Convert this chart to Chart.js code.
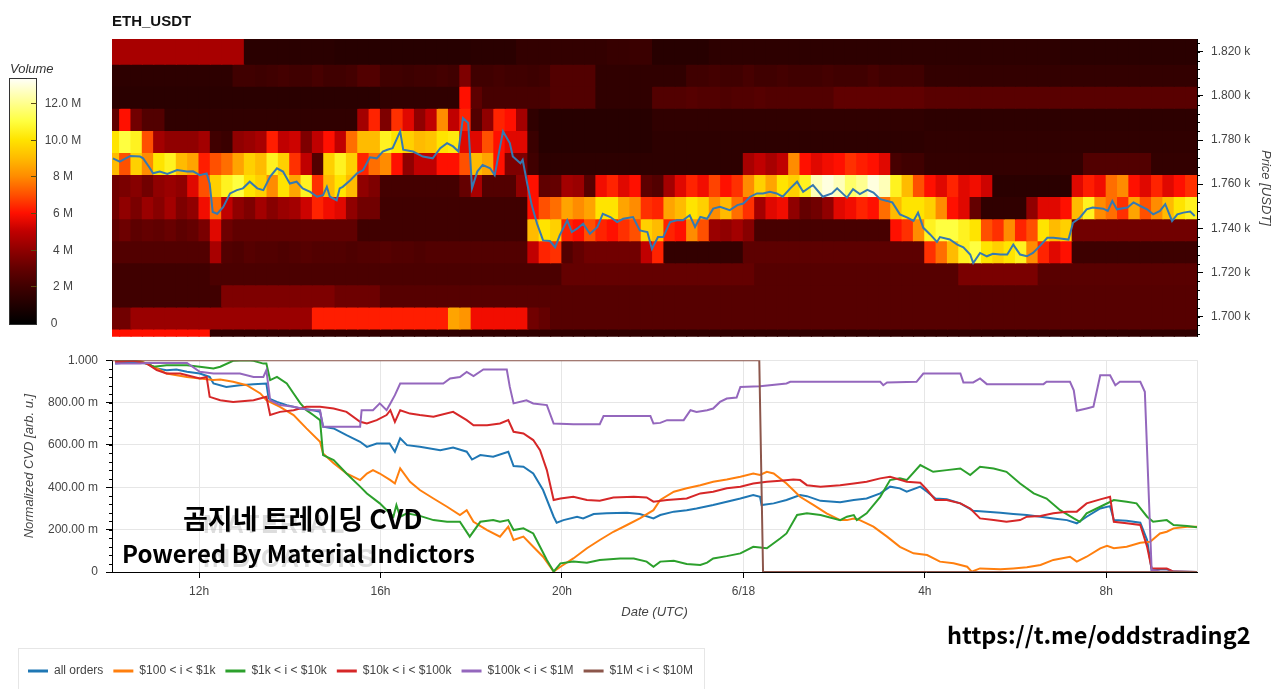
<!DOCTYPE html>
<html><head><meta charset="utf-8">
<script src="https://cdn.jsdelivr.net/npm/chart.js@4.4.1/dist/chart.umd.min.js"></script>
<style>
html,body{margin:0;padding:0;background:#fff;overflow:hidden;width:1280px;height:689px;}
canvas{position:absolute;left:0;}
#c1{top:0;}
#c2{top:345px;}
#legendBox{position:absolute;left:18px;top:648px;width:687px;height:70px;border:1px solid #e6e6e6;box-sizing:border-box;}
.txt{position:absolute;white-space:nowrap;font-family:'Noto Sans CJK KR','Noto Sans',sans-serif;font-weight:700;color:#000;line-height:1;}
.wm{position:absolute;white-space:nowrap;font-family:'Liberation Sans',Arial,sans-serif;font-weight:700;color:rgba(150,150,150,0.32);line-height:1;letter-spacing:2px;}
</style></head><body>
<div id="legendBox"></div>
<canvas id="c1" width="1280" height="352"></canvas>
<canvas id="c2" width="1280" height="360"></canvas>
<div class="wm" style="left:203px;top:512px;font-size:25px;">MATERIAL</div>
<div class="wm" style="left:203px;top:546px;font-size:25px;">INDICATORS</div>
<div class="txt" style="left:183px;top:503.5px;font-size:27px;">곰지네 트레이딩 CVD</div>
<div class="txt" style="left:122px;top:540.5px;font-size:24px;">Powered By Material Indictors</div>
<div class="txt" style="left:947px;top:622.5px;font-size:23.5px;">https://t.me/oddstrading2</div>
<script>
// ---------------- DATA ----------------
// heatmap column centres (minutes after 6/17 10:00, 15-min columns)
const heatTimes = [7.5,22.5,37.5,52.5,67.5,82.5,97.5,112.5,127.5,142.5,
157.5,172.5,187.5,202.5,217.5,232.5,247.5,262.5,277.5,292.5,
307.5,322.5,337.5,352.5,367.5,382.5,397.5,412.5,427.5,442.5,
457.5,472.5,487.5,502.5,517.5,532.5,547.5,562.5,577.5,592.5,
607.5,622.5,637.5,652.5,667.5,682.5,697.5,712.5,727.5,742.5,
757.5,772.5,787.5,802.5,817.5,832.5,847.5,862.5,877.5,892.5,
907.5,922.5,937.5,952.5,967.5,982.5,997.5,1012.5,1027.5,1042.5,
1057.5,1072.5,1087.5,1102.5,1117.5,1132.5,1147.5,1162.5,1177.5,1192.5,
1207.5,1222.5,1237.5,1252.5,1267.5,1282.5,1297.5,1312.5,1327.5,1342.5,
1357.5,1372.5,1387.5,1402.5,1417.5,1432.5];
// price bin edges (USDT), bottom -> top
const priceEdges = [1690.8,1694.4,1704.4,1714.4,1724.4,1734.4,1744.4,1754.4,1764.4,1774.4,1784.4,1794.4,1804.4,1814.4,1825.8];
// resting volume per bin (millions), top bin first
const volBin1820 = [4.5,4.5,4.5,4.5,4.5,4.5,4.5,4.5,4.5,4.5,4.5,4.5,1.3,1.3,1.3,1.3,1.3,1.3,1.3,1.3,
1.2,1.2,1.2,1.2,1.2,1.2,1.2,1.2,1.2,1.2,1.2,1.2,1.3,1.3,1.3,1.3,1.6,1.6,1.6,1.6,
1.6,1.6,1.6,1.6,1.7,1.7,1.8,1.8,1.2,1.2,1.2,1.2,1.2,1.4,1.4,1.4,1.4,1.4,1.4,1.4,
1.4,1.4,1.4,1.4,1.4,1.4,1.4,1.4,1.4,1.4,1.4,1.4,1.4,1.4,1.4,1.4,1.4,1.4,1.4,1.4,
1.4,1.4,1.4,1.4,1.3,1.3,1.3,1.3,1.3,1.3,1.3,1.3,1.3,1.3,1.3,1.3];
const volBin1809 = [1.4,1.4,1.4,1.4,1.4,1.4,1.4,1.4,1.4,1.4,1.4,2.0,2.0,1.9,2.0,2.1,2.0,2.0,2.2,2.0,
2.0,2.1,2.5,2.5,2.0,2.0,1.9,2.0,2.0,2.1,2.0,3.6,2.0,2.0,2.1,2.0,2.0,1.9,2.0,2.5,
2.5,2.5,2.5,1.5,1.5,1.5,1.5,1.5,1.5,1.5,1.5,2.0,2.0,2.1,2.0,2.0,2.2,2.0,2.0,2.1,
2.0,2.0,2.0,2.1,2.0,2.0,2.0,2.2,2.0,2.0,2.0,2.0,1.6,1.6,1.6,1.6,1.6,1.6,1.6,1.6,
1.6,1.6,1.6,1.6,1.6,1.6,1.6,1.6,1.6,1.6,1.6,1.6,1.6,1.6,1.6,1.6];
const volBin1799 = [1.3,1.3,1.3,1.3,1.3,1.3,1.3,1.3,1.3,1.3,1.3,1.3,1.3,1.3,1.3,1.3,1.3,1.3,1.3,1.3,
1.3,1.3,1.3,1.3,1.5,1.5,1.5,1.5,1.5,1.5,1.5,6.0,2.8,2.2,2.2,2.2,2.2,2.2,2.2,2.5,
2.5,2.5,2.5,1.5,1.5,1.5,1.5,1.5,2.5,2.5,2.5,2.6,2.5,2.5,2.4,2.5,2.5,2.6,2.5,2.5,
2.5,2.5,2.5,2.5,2.9,2.9,2.9,2.9,2.9,2.9,2.9,2.9,2.7,2.7,2.7,2.7,2.7,2.7,2.7,2.7,
2.7,2.7,2.7,2.7,2.7,2.7,2.7,2.7,2.7,2.7,2.7,2.7,2.7,2.7,2.7,2.7];
const volBin1789 = [2.9,6.0,3.3,2.5,2.5,1.5,1.5,1.5,1.5,1.5,1.5,1.5,1.5,1.5,1.5,1.5,1.5,1.5,1.5,1.5,
1.5,1.5,4.4,6.3,3.6,6.5,5.5,4.0,5.0,8.0,5.0,6.3,2.5,4.0,6.3,6.0,4.4,1.5,1.2,1.2,
1.2,1.2,1.2,1.2,1.2,1.2,1.2,1.2,1.5,1.5,1.5,1.5,1.5,1.5,1.5,1.5,1.5,1.5,1.5,1.5,
1.5,1.5,1.5,1.5,1.5,1.5,1.5,1.5,1.5,1.5,1.5,1.5,1.4,1.4,1.4,1.4,1.4,1.4,1.4,1.4,
1.4,1.4,1.4,1.4,1.4,1.4,1.4,1.4,1.4,1.4,1.4,1.4,1.4,1.4,1.4,1.4];
const volBin1779 = [10,11,10.5,7,4.4,4,4,4,4.4,2.0,1.8,4,4.2,4.5,6.2,5,5.2,3.6,5,6,
5,7.5,9,9,10.5,10,9.5,9,9.2,10,10.2,5.5,5.5,7,6,5.5,5.5,1.8,1.2,1.2,
1.2,1.2,1.2,1.2,1.2,1.2,1.2,1.2,1.4,1.4,1.4,1.4,1.4,1.4,1.4,1.4,1.4,1.4,1.4,1.4,
1.4,1.4,1.4,1.4,1.4,1.4,1.4,1.4,1.4,1.4,1.4,1.4,1.5,1.5,1.5,1.5,1.5,1.5,1.5,1.5,
1.5,1.5,1.5,1.5,1.5,1.5,1.5,1.5,1.5,1.5,1.5,1.5,1.5,1.5,1.5,1.5];
const volBin1769 = [9,7,9.5,8,10,10.5,9,8.5,6.2,7,7.5,8.5,9.5,9,10.5,9.5,6.5,5,2.5,9.5,
10.5,9.5,6.3,7.5,8,6,4,5,5,6,6,7,9,8.5,6,3.6,3.6,2.0,1.4,1.4,
1.4,1.4,1.4,1.4,1.4,1.4,1.4,1.4,1.4,1.4,1.4,1.4,1.4,1.4,1.4,1.4,4.5,5,4.5,5,
8,6,5.5,5.8,6,6.5,6.2,6,5.5,2.2,2,2,1.6,1.6,1.6,1.6,1.6,1.6,1.6,1.6,
1.6,1.6,1.6,1.6,1.6,1.6,2.5,2.5,2.5,2.5,2.5,2.5,1.6,1.6,1.6,1.6];
const volBin1759 = [3.3,3.5,3.8,3.3,4.0,4.2,4.0,5.5,7,9.5,10.5,11,10,9.5,8,10,8.5,10.5,6.5,9,
10,9,4,3.6,2.1,2.1,2.1,2.1,2.1,2.1,2.1,3,4.5,2.5,2.5,2.5,4,6,2.9,3.0,
4.4,4.2,2.6,5.8,6.3,5.5,6.0,2.8,2.5,4.4,5.5,6.3,5.8,6.8,6.0,6.5,8.0,9.5,8.5,10,
9.5,10.5,12.5,13,12.5,11.5,12,13,12.5,10.5,9,7,6,5.5,6.3,5.5,5.8,5.2,1.3,1.3,
1.3,1.3,1.3,1.3,1.3,5.5,6.2,5.8,7.5,8,6,5.5,6.3,5.5,6,6.5];
const volBin1749 = [3.3,4,3.5,4.2,3.8,4.4,3.6,4,5.8,7.5,5,4,3.6,4.4,3.8,4.2,4.4,5.2,6.3,5.8,
5.5,4,3.3,3.3,2.0,2.0,2.0,2.0,2.0,2.0,2.0,2.0,2.0,2.0,2.0,2.0,2.0,6,7,7.5,
8.5,8,8.5,10,10,8.5,8,6.5,6.3,8.5,9,10,9.5,8,9,7.5,6.5,4.4,5.5,5.8,
4,3,3.3,4,5.5,5.8,6.3,6,7.5,9,10,10,9.5,8,6,5.5,3,1.5,1.5,1.5,
1.5,4,5.5,5.5,6,9,10.5,8,7.5,6.5,8.5,7,8,9,10,10.5];
const volBin1739 = [2.9,3.2,2.8,3.0,2.9,3.1,2.8,3.0,3.5,5.5,3.2,2.9,2.9,2.9,2.9,2.9,2.9,2.9,2.9,2.9,
2.9,2.9,2.0,2.0,2.0,2.0,2.0,2.0,2.0,2.0,2.0,2.0,2.0,2.0,2.0,2.0,2.0,9,10,9.5,
6.3,6,7,6.3,6,6.5,7,9.5,9,6.3,6,8,7,4.2,4,4.4,3.8,2.2,2.2,2.2,
2.2,2.2,2.2,2.2,2.2,2.2,2.2,2.2,2.2,6,6.5,8,10.5,11,11,10.5,10,7,6.5,8,
6.3,7,10,9,9.5,3.3,3.3,3.3,3.3,3.3,3.3,3.3,3.3,3.3,3.3,3.3];
const volBin1729 = [2.5,2.5,2.5,2.5,2.5,2.5,2.5,2.5,2.5,4.5,2.5,2.4,2.6,2.5,2.5,2.4,2.5,2.6,2.5,2.5,
2.5,2.4,2.5,2.5,2.6,2.5,2.5,2.4,2.5,2.5,2.5,2.5,2.5,2.5,2.5,2.5,2.5,5,6.3,6.5,
2.5,3.0,3.3,3.3,3.3,3.3,3.3,5,6.3,1.6,1.6,1.6,1.6,1.6,1.6,1.6,2.8,2.8,2.8,2.8,
2.8,2.8,2.8,2.8,2.8,2.8,2.8,2.8,2.8,2.8,2.8,2.8,6.5,7.5,9,10.5,11,10,9.5,10,
10.5,8,6.3,5.5,6,1.9,1.9,1.9,1.9,1.9,1.9,1.9,1.9,1.9,1.9,1.9];
const volBin1719 = [2.0,2.0,2.0,2.0,2.0,2.0,2.0,2.0,2.0,2.3,2.3,2.3,2.3,2.3,2.3,2.3,2.3,2.3,2.3,2.3,
2.3,2.3,2.3,2.3,2.3,2.3,2.3,2.3,2.3,2.3,2.3,2.3,2.3,2.3,2.3,2.3,2.3,2.3,2.3,2.3,
3.0,3.0,3.0,3.0,3.0,3.0,3.0,3.0,3.0,3.0,3.0,3.0,3.0,3.0,3.0,3.0,3.0,2.6,2.6,2.6,
2.6,2.6,2.6,2.6,2.6,2.6,2.6,2.6,2.6,2.6,2.6,2.6,2.6,2.6,2.6,3.5,3.5,3.5,3.5,3.5,
3.5,3.5,2.7,2.7,2.7,2.7,2.7,2.7,2.7,2.7,2.7,2.7,2.7,2.7,2.7,2.7];
const volBin1709 = [2.0,2.0,2.0,2.0,2.0,2.0,2.0,2.0,2.0,2.0,3.6,3.6,3.6,3.6,3.6,3.6,3.6,3.6,3.6,3.6,
3.2,3.2,3.2,3.2,2.6,2.6,2.6,2.6,2.6,2.6,2.6,2.6,2.6,2.6,2.6,2.6,2.6,2.6,2.6,2.6,
2.6,2.6,2.6,2.6,2.6,2.6,2.6,2.6,2.6,2.6,2.6,2.6,2.6,2.6,2.6,2.6,2.6,2.6,2.6,2.6,
2.6,2.6,2.6,2.6,2.6,2.6,2.6,2.6,2.6,2.6,2.6,2.6,2.6,2.6,2.6,2.6,2.6,2.6,2.6,2.6,
2.6,2.6,2.6,2.6,2.6,2.6,2.6,2.6,2.6,2.6,2.6,2.6,2.6,2.6,2.6,2.6];
const volBin1699 = [3.3,3.3,4.2,4.2,4.2,4.2,4.2,4.2,4.2,4.2,4.2,4.2,4.2,4.2,4.2,4.2,4.2,4.2,6.2,6.2,
6.2,6.2,6.2,6.2,6.2,6.2,6.2,6.2,6.2,6.2,8.5,8.2,5.8,5.8,5.8,5.8,5.8,3.3,3.0,2.6,
2.6,2.6,2.6,2.6,2.6,2.6,2.6,2.6,2.6,2.6,2.6,2.6,2.6,2.6,2.6,2.6,2.6,2.6,2.6,2.6,
2.6,2.6,2.6,2.6,2.6,2.6,2.6,2.6,2.6,2.6,2.6,2.6,2.6,2.6,2.6,2.6,2.6,2.6,2.6,2.6,
2.6,2.6,2.6,2.6,2.6,2.6,2.6,2.6,2.6,2.6,2.6,2.6,2.6,2.6,2.6,2.6];
const volBin1692 = [6.0,6.0,6.0,6.0,6.0,6.0,6.0,6.0,6.0,1.5,1.5,1.5,1.5,1.5,1.5,1.5,1.5,1.5,1.5,1.5,
1.5,1.5,1.5,1.5,1.5,1.5,1.5,1.5,1.5,1.5,1.5,1.5,1.5,1.5,1.5,1.5,1.5,1.5,1.5,1.5,
1.5,1.5,1.5,1.5,1.5,1.5,1.5,1.5,1.5,1.5,1.5,1.5,1.5,1.5,1.5,1.5,1.5,1.5,1.5,1.5,
1.5,1.5,1.5,1.5,1.5,1.5,1.5,1.5,1.5,1.5,1.5,1.5,1.5,1.5,1.5,1.5,1.5,1.5,1.5,1.5,
1.5,1.5,1.5,1.5,1.5,1.5,1.5,1.5,1.5,1.5,1.5,1.5,1.5,1.5,1.5,1.5];

// ETH price line
const priceT = [6,15,29,42,46,55,59,68,78,91,104,112,121,130,134,138,144,152,161,170,178,187,197,205,214,223,231,240,249,257,267,276,284,289,293,302,306,310,320,329,337,346,355,363,
369,376,386,390,403,416,429,439,448,456,463,469,476,481,488,495,505,511,522,531,535,545,548,554,560,567,575,584,591,597,607,613,620,628,637,647,654,664,673,681,694,703,713,719,
727,734,743,752,760,769,776,783,792,800,809,822,832,840,849,858,866,875,884,892,902,911,919,932,945,957,964,
977,985,994,1004,1012,1021,1030,1037,1047,1057,1065,1071,1078,1087,1096,1100,1113,1123,1131,1140,1144,1153,1162,1170,1180,1189,1197,1206,1215,1223,1232,1242,1250,1259,1270,1276,1285,1294,1302,1316,1322,1328,1334,1348,1356,1365,1374,1382,1391,1398,1407,1414,1422,1431,1437];
const priceV = [1771.7,1770.2,1772.8,1772.5,1771.7,1767.2,1764.9,1765.7,1764.6,1766.4,1765.7,1765.8,1764.1,1764.9,1760.3,1747.4,1746.6,1749.7,1755.8,1757.3,1758.1,1761.1,1758.1,1757.3,1763.4,1767.2,1765.7,1760.3,1761.1,1758.1,1756.5,1754.3,1755.0,1758.8,1754.3,1752.7,1758.1,1758.8,1761.8,1764.9,1766.4,1772.2,1771.7,1774.8,
1775.6,1776.3,1783.9,1775.6,1774.8,1772.5,1771.7,1776.3,1778.6,1777.1,1774.8,1790.0,1787.7,1758.1,1765.7,1768.7,1767.2,1764.1,1783.9,1778.6,1772.5,1769.5,1771.0,1760.3,1750.5,1742.1,1734.5,1734.2,1731.4,1736.8,1743.6,1738.3,1739.8,1742.1,1737.5,1740.6,1746.6,1745.1,1742.8,1744.3,1745.1,1739.0,1738.3,1730.6,
1736.0,1736.0,1742.8,1743.6,1743.6,1745.9,1740.6,1745.1,1744.3,1748.9,1749.7,1748.2,1750.5,1751.2,1754.3,1755.8,1755.8,1756.5,1755.8,1754.3,1758.1,1761.1,1756.5,1759.6,1754.3,1755.8,1758.1,
1753.9,1757.7,1755.5,1757.4,1756.2,1753.2,1752.4,1751.7,1746.3,1744.8,1743.3,1747.1,1740.2,1737.2,1733.8,1736.0,1734.9,1732.6,1731.4,1728.1,1724.2,1728.8,1727.3,1728.4,1728.1,1728.1,1732.6,1728.1,1727.3,1728.8,1731.9,1735.7,1735.7,1735.4,1734.9,1742.5,1744.8,1748.6,1749.4,1748.9,1747.9,1752.4,1748.6,1749.4,1751.7,1750.1,1748.6,1746.3,1747.9,1750.9,1743.3,1746.3,1747.1,1747.6,1745.6];

// normalized CVD series (time in minutes after 6/17 10:00)
const allOrdersT = [9,33,51,64,77,90,104,121,134,139,156,174,192,209,212,223,236,254,271,280,284,298,315,333,342,355,372,379,386,395,412,439,456,474,481,492,509,529,536,549,562,575,589,593,602,620,628,642,659,686,703,721,730,748,765,778,800,818,836,853,862,864,880,897,915,924,942,968,986,1003,1021,1034,1047,1056,1074,1083,1094,1109,1127,1144,1162,1180,1197,1215,1233,1250,1268,1281,1294,1312,1325,1330,1347,1365,1374,1380,1391,1400,1409,1440];
const allOrdersV = [.984,.992,.984,.961,.953,.956,.945,.937,.921,.890,.874,.882,.887,.890,.819,.803,.788,.772,.764,.756,.686,.678,.646,.615,.591,.607,.607,.568,.631,.599,.591,.575,.588,.568,.531,.552,.544,.568,.500,.497,.465,.387,.261,.233,.245,.261,.253,.274,.277,.280,.274,.253,.269,.285,.292,.300,.316,.332,.347,.363,.355,.316,.324,.340,.363,.358,.336,.329,.340,.347,.371,.403,.395,.379,.403,.379,.347,.343,.324,.289,.285,.280,.274,.269,.261,.253,.245,.230,.261,.300,.311,.245,.242,.233,.151,.009,.013,.013,.002,.000];
const small100T = [9,42,60,77,104,121,139,148,165,183,201,209,227,245,262,280,284,298,315,333,342,350,359,373,379,386,399,412,430,448,465,474,483,501,518,529,536,549,562,575,589,598,615,633,650,668,686,703,721,730,748,765,783,800,818,836,853,862,871,880,897,915,933,950,968,977,986,994,1012,1030,1047,1065,1083,1100,1118,1136,1142,1153,1180,1197,1215,1233,1250,1272,1281,1294,1312,1321,1330,1347,1365,1378,1391,1400,1409,1427,1440];
const small100V = [.997,.997,.969,.937,.921,.914,.906,.909,.898,.882,.843,.811,.780,.741,.678,.615,.560,.513,.465,.434,.465,.481,.465,.434,.418,.489,.426,.387,.347,.308,.269,.292,.237,.198,.167,.214,.151,.167,.119,.072,.002,.025,.064,.112,.151,.190,.222,.253,.292,.340,.379,.395,.410,.426,.437,.450,.465,.458,.473,.465,.418,.355,.316,.277,.245,.245,.253,.245,.214,.167,.119,.088,.080,.049,.041,.025,.002,.017,.013,.017,.022,.033,.057,.072,.049,.072,.112,.124,.112,.119,.138,.143,.182,.190,.206,.214,.214];
const size1kT = [9,33,51,60,77,104,121,139,148,165,183,192,205,209,214,223,236,245,254,262,271,280,284,298,315,333,342,359,377,381,386,395,412,430,448,465,478,492,509,518,529,536,549,562,571,580,589,598,615,633,650,677,695,712,721,730,748,765,783,792,800,818,836,853,871,889,897,911,924,942,968,977,986,990,1003,1021,1034,1047,1056,1074,1091,1109,1127,1140,1153,1171,1188,1206,1224,1241,1259,1277,1285,1294,1312,1330,1347,1360,1374,1382,1400,1409,1427,1440];
const size1kV = [1.0,1.0,.984,.969,.976,.976,.969,.961,.969,.997,1.0,.997,.984,.984,.906,.921,.890,.843,.796,.764,.741,.717,.552,.528,.465,.403,.371,.324,.261,.316,.261,.277,.265,.245,.237,.237,.167,.237,.245,.237,.245,.198,.206,.182,.119,.057,.002,.041,.049,.044,.057,.064,.064,.049,.025,.049,.053,.038,.033,.044,.064,.075,.088,.119,.112,.159,.182,.269,.277,.269,.245,.261,.269,.245,.277,.355,.434,.442,.434,.505,.473,.481,.489,.458,.497,.489,.473,.418,.371,.347,.292,.253,.237,.277,.308,.340,.332,.324,.261,.237,.245,.222,.217,.211];
const size10kT = [9,33,51,64,77,95,121,130,134,148,165,192,209,214,227,245,262,280,298,315,333,342,355,368,373,379,386,399,412,430,439,456,474,483,501,518,529,536,549,562,571,580,589,598,615,633,650,668,695,712,721,739,765,783,800,818,836,853,871,889,906,915,924,942,968,986,1003,1021,1034,1056,1074,1083,1094,1109,1127,1140,1153,1171,1188,1206,1215,1233,1250,1268,1281,1294,1312,1325,1330,1347,1365,1374,1380,1391,1400,1409,1440];
const size10kV = [.992,.997,.984,.953,.937,.937,.914,.921,.827,.811,.803,.811,.827,.741,.756,.764,.780,.780,.772,.756,.709,.701,.717,.741,.764,.709,.764,.748,.741,.733,.741,.756,.717,.693,.693,.701,.717,.662,.654,.623,.575,.481,.340,.347,.355,.340,.336,.352,.355,.352,.332,.340,.347,.371,.379,.395,.403,.418,.426,.431,.437,.434,.410,.403,.410,.418,.426,.442,.450,.426,.421,.387,.340,.340,.324,.300,.253,.245,.237,.245,.261,.264,.277,.285,.285,.324,.343,.355,.237,.230,.222,.119,.017,.017,.016,.002,.000];
const size100kT = [9,42,51,104,121,139,174,192,205,209,214,227,245,267,280,284,315,333,335,350,359,368,373,379,386,412,443,452,465,474,483,496,527,531,536,553,562,580,589,615,650,655,686,717,721,730,739,761,770,778,792,800,809,818,831,836,862,897,902,968,1021,1025,1030,1069,1078,1127,1131,1144,1153,1162,1237,1241,1272,1277,1281,1294,1303,1312,1325,1332,1338,1365,1371,1380,1391,1440];
const size100kV = [.984,.984,.987,.987,.945,.937,.937,.921,.921,.953,.811,.788,.780,.764,.764,.686,.686,.686,.764,.764,.796,.764,.796,.835,.890,.890,.890,.914,.921,.945,.925,.956,.956,.874,.796,.811,.796,.788,.701,.698,.698,.736,.736,.736,.701,.704,.717,.717,.764,.756,.764,.772,.803,.819,.824,.874,.877,.890,.898,.898,.898,.882,.895,.898,.937,.937,.895,.895,.914,.887,.887,.898,.898,.858,.761,.772,.780,.929,.929,.882,.898,.898,.851,.009,.002,.000];
const size1MT = [5,861,866,1440];
const size1MV = [1,1,0,0];

const seriesNames = ['all orders','$100 < i < $1k','$1k < i < $10k','$10k < i < $100k','$100k < i < $1M','$1M < i < $10M'];
const seriesColors = ['#1f77b4','#ff7f0e','#2ca02c','#d62728','#9467bd','#8c564b'];

const timeTicks = [120,360,600,840,1080,1320];
const timeTickLabels = ['12h','16h','20h','6/18','4h','8h'];
const priceTicks = [1700,1720,1740,1760,1780,1800,1820];
const priceTickLabels = ['1.700 k','1.720 k','1.740 k','1.760 k','1.780 k','1.800 k','1.820 k'];
const cvdTicks = [0,0.2,0.4,0.6,0.8,1.0];
const cvdTickLabels = ['0','200.00 m','400.00 m','600.00 m','800.00 m','1.000'];
const cbarTicks = [0,2,4,6,8,10,12];
const cbarLabels = ['0','2 M','4 M','6 M','8 M','10.0 M','12.0 M'];

// ---------------- STYLE ----------------
const FONT = "'Liberation Sans', Arial, Helvetica, sans-serif";
const TICK_COLOR = '#444';
const CMAP = [[0,[0,0,0]],[1.3,[42,0,0]],[2,[64,0,0]],[3,[100,0,0]],[4,[144,0,0]],[5,[192,0,0]],[6,[255,16,0]],[7,[255,80,0]],[8,[255,140,0]],[9,[255,187,0]],[10,[255,228,0]],[11,[255,255,64]],[12,[255,255,144]],[13.4,[255,255,255]]];
function volColor(v){
  if (v <= CMAP[0][0]) return 'rgb(0,0,0)';
  for (let i = 1; i < CMAP.length; i++){
    if (v <= CMAP[i][0]){
      const a = CMAP[i-1], b = CMAP[i], t = (v - a[0]) / (b[0] - a[0]);
      const c = a[1].map((x, j) => Math.round(x + (b[1][j] - x) * t));
      return 'rgb(' + c.join(',') + ')';
    }
  }
  return 'rgb(255,255,255)';
}

Chart.defaults.font.family = FONT;

// ---------------- PLUGINS ----------------
const colorbarPlugin = {
  id: 'colorbar',
  afterDraw(chart){
    const ctx = chart.ctx;
    const x0 = 9, x1 = 37, y0 = 78, y1 = 325, vTop = 13.35, vBot = -0.1;
    const vy = v => y1 - (v - vBot) / (vTop - vBot) * (y1 - y0);
    ctx.save();
    const g = ctx.createLinearGradient(0, y1, 0, y0);
    g.addColorStop(0, volColor(0));
    CMAP.forEach(s => { const o = (s[0] - vBot) / (vTop - vBot); if (o >= 0 && o <= 1) g.addColorStop(o, volColor(s[0])); });
    g.addColorStop(1, volColor(vTop));
    ctx.fillStyle = g;
    ctx.fillRect(x0, y0, x1 - x0, y1 - y0);
    ctx.strokeStyle = '#333'; ctx.lineWidth = 1;
    ctx.strokeRect(x0 + 0.5, y0 + 0.5, x1 - x0 - 1, y1 - y0 - 1);
    ctx.strokeStyle = '#5a4a10';
    ctx.fillStyle = TICK_COLOR;
    ctx.font = '12px ' + FONT;
    ctx.textAlign = 'center'; ctx.textBaseline = 'middle';
    cbarTicks.forEach((v, i) => {
      const y = Math.round(vy(v)) + 0.5;
      if (v > 0){ ctx.beginPath(); ctx.moveTo(31, y); ctx.lineTo(37, y); ctx.stroke(); }
      ctx.fillText(cbarLabels[i], v === 0 ? 54 : 63, y);
    });
    ctx.font = 'italic 13px ' + FONT;
    ctx.fillStyle = '#333'; ctx.textAlign = 'left';
    ctx.fillText('Volume', 10, 69);
    ctx.restore();
  }
};

const minorTicksPlugin = {
  id: 'minorTicks',
  afterDraw(chart, args, opts){
    const ctx = chart.ctx; ctx.save();
    ctx.strokeStyle = '#000'; ctx.lineWidth = 1;
    const s = chart.scales[opts.axis];
    for (let v = opts.from; v <= opts.to + 1e-9; v += opts.step){
      const y = Math.round(s.getPixelForValue(v)) + 0.5;
      const x = opts.side === 'right' ? chart.chartArea.right : chart.chartArea.left;
      ctx.beginPath();
      if (opts.side === 'right'){ ctx.moveTo(x, y); ctx.lineTo(x + 3, y); }
      else { ctx.moveTo(x - 3, y); ctx.lineTo(x, y); }
      ctx.stroke();
    }
    if (opts.frame){
      ctx.strokeStyle = '#e6e6e6';
      const r = Math.round(chart.chartArea.right) + 0.5;
      ctx.beginPath(); ctx.moveTo(r, chart.chartArea.top); ctx.lineTo(r, chart.chartArea.bottom); ctx.stroke();
    }
    ctx.restore();
  }
};

// ---------------- TOP CHART: order book heatmap + price ----------------
const heatRows = [volBin1820,volBin1809,volBin1799,volBin1789,volBin1779,volBin1769,volBin1759,volBin1749,volBin1739,volBin1729,volBin1719,volBin1709,volBin1699,volBin1692];
const heatDatasets = heatRows.map((vols, r) => {
  const lo = priceEdges[13 - r], hi = priceEdges[14 - r];
  return {
    type: 'bar',
    data: heatTimes.map(t => ({x: t, y: [lo, hi]})),
    backgroundColor: vols.map(volColor),
    borderWidth: 0,
    grouped: false,
    barPercentage: 1,
    categoryPercentage: 1,
    inflateAmount: 0.6,
    order: 1
  };
});
const priceDataset = {
  type: 'line',
  data: priceT.map((t, i) => ({x: t, y: priceV[i]})),
  borderColor: '#3579b1',
  borderWidth: 2,
  pointRadius: 0,
  tension: 0,
  order: 0
};

new Chart(document.getElementById('c1'), {
  type: 'bar',
  data: {datasets: [priceDataset, ...heatDatasets]},
  options: {
    responsive: false, animation: false, events: [],
    layout: {padding: {left: 112, right: 0, top: 0, bottom: 0}},
    plugins: {
      legend: {display: false}, tooltip: {enabled: false},
      title: {display: true, text: 'ETH_USDT', align: 'start', color: '#111',
        font: {family: FONT, size: 15, weight: 'bold'}, padding: {top: 13, bottom: 8}},
      minorTicks: {axis: 'y', from: 1692, to: 1824, step: 4, side: 'right'}
    },
    scales: {
      x: {type: 'linear', min: 4.8, max: 1440, offset: false, display: false},
      y: {type: 'linear', position: 'right', min: 1690.8, max: 1825.8,
        afterFit: s => { s.width = 83; },
        afterBuildTicks: s => { s.ticks = priceTicks.map(v => ({value: v})); },
        ticks: {callback: v => priceTickLabels[priceTicks.indexOf(v)], color: TICK_COLOR, font: {size: 12}, padding: 8},
        grid: {drawOnChartArea: false, tickLength: 6, tickColor: '#000'},
        border: {color: '#000'},
        title: {display: true, text: 'Price [USDT]', color: '#444', font: {size: 13, style: 'italic'}, padding: {top: 7, bottom: 0}}
      }
    }
  },
  plugins: [colorbarPlugin, minorTicksPlugin]
});

// ---------------- BOTTOM CHART: normalized CVD ----------------
const cvdT = [allOrdersT, small100T, size1kT, size10kT, size100kT, size1MT];
const cvdV = [allOrdersV, small100V, size1kV, size10kV, size100kV, size1MV];
const cvdDatasets = seriesNames.map((name, i) => ({
  label: name,
  data: cvdT[i].map((t, j) => ({x: t, y: cvdV[i][j]})),
  borderColor: seriesColors[i],
  backgroundColor: seriesColors[i],
  borderWidth: 2,
  pointRadius: 0,
  tension: 0,
  order: 5 - i
}));

new Chart(document.getElementById('c2'), {
  type: 'line',
  data: {datasets: cvdDatasets},
  options: {
    responsive: false, animation: false, events: [],
    layout: {padding: {left: 18, right: 83, top: 15, bottom: 18}},
    plugins: {
      tooltip: {enabled: false},
      legend: {position: 'bottom', align: 'start',
        labels: {boxWidth: 20, boxHeight: 3, padding: 10, color: '#444', font: {size: 12},
          sort: (a, b) => a.datasetIndex - b.datasetIndex,
          generateLabels: chart => Chart.defaults.plugins.legend.labels.generateLabels(chart).map(it => Object.assign(it, {fillStyle: it.strokeStyle, lineWidth: 0}))
        }
      },
      minorTicks: {axis: 'y', from: 0.04, to: 0.96, step: 0.04, side: 'left', frame: true}
    },
    scales: {
      x: {type: 'linear', min: 4.8, max: 1440, offset: false,
        afterFit: s => { s.height = 83; },
        afterBuildTicks: s => { s.ticks = timeTicks.map(v => ({value: v})); },
        ticks: {callback: v => timeTickLabels[timeTicks.indexOf(v)], color: TICK_COLOR, font: {size: 12}, padding: 6, maxRotation: 0, autoSkip: false},
        grid: {color: '#e6e6e6', tickColor: '#000', tickLength: 6},
        border: {color: '#000'},
        title: {display: true, text: 'Date (UTC)', color: '#444', font: {size: 13, style: 'italic'}, padding: {top: 0, bottom: 35}}
      },
      y: {type: 'linear', min: 0, max: 1,
        afterFit: s => { s.width = 94; },
        afterBuildTicks: s => { s.ticks = cvdTicks.map(v => ({value: v})); },
        ticks: {callback: v => cvdTickLabels[cvdTicks.indexOf(v)], color: TICK_COLOR, font: {size: 12}, padding: 8},
        grid: {color: '#e6e6e6', tickColor: '#000', tickLength: 6},
        border: {color: '#000'},
        title: {display: true, text: 'Normalized CVD [arb. u.]', color: '#444', font: {size: 13, style: 'italic'}, padding: {top: 4, bottom: 0}}
      }
    }
  },
  plugins: [minorTicksPlugin]
});
</script>
</body></html>
